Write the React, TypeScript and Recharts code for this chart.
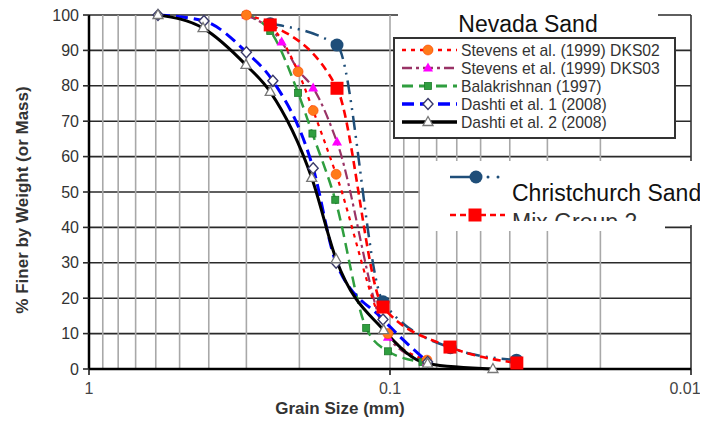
import { LineChart, Line, XAxis, YAxis, CartesianGrid, ReferenceLine } from 'recharts'

type Pt = { d: number; v: number }

// Nevada sand gradations: grain size (mm) vs % finer
const stevensDKS02: Pt[] = [
  { d: 0.3, v: 100 },
  { d: 0.25, v: 97 },
  { d: 0.202, v: 84 },
  { d: 0.18, v: 73 },
  { d: 0.151, v: 55 },
  { d: 0.1016, v: 10 },
  { d: 0.0754, v: 2.5 },
]
const stevensDKS03: Pt[] = [
  { d: 0.3, v: 100 },
  { d: 0.229, v: 92.4 },
  { d: 0.202, v: 84.5 },
  { d: 0.18, v: 79.4 },
  { d: 0.15, v: 64.1 },
  { d: 0.1016, v: 9 },
  { d: 0.0754, v: 2 },
]
const balakrishnan: Pt[] = [
  { d: 0.3, v: 100 },
  { d: 0.25, v: 95.5 },
  { d: 0.202, v: 78 },
  { d: 0.181, v: 66.5 },
  { d: 0.152, v: 47.8 },
  { d: 0.12, v: 11.6 },
  { d: 0.1016, v: 5 },
  { d: 0.078, v: 2 },
]
const dashti1: Pt[] = [
  { d: 0.59, v: 100 },
  { d: 0.415, v: 98.3 },
  { d: 0.3, v: 89.5 },
  { d: 0.245, v: 81.4 },
  { d: 0.18, v: 56.7 },
  { d: 0.151, v: 30 },
  { d: 0.1055, v: 14 },
  { d: 0.075, v: 2 },
]
const dashti2: Pt[] = [
  { d: 0.59, v: 100 },
  { d: 0.418, v: 96.3 },
  { d: 0.301, v: 85.9 },
  { d: 0.25, v: 78.3 },
  { d: 0.182, v: 54 },
  { d: 0.151, v: 31 },
  { d: 0.105, v: 11 },
  { d: 0.075, v: 1.5 },
  { d: 0.0455, v: 0 },
]

// Christchurch sand
const chchBlue: Pt[] = [
  { d: 0.25, v: 97.5 },
  { d: 0.15, v: 91.5 },
  { d: 0.1055, v: 19 },
  { d: 0.063, v: 6 },
  { d: 0.038, v: 2.5 },
]
const chchRed: Pt[] = [
  { d: 0.25, v: 97.2 },
  { d: 0.15, v: 79.3 },
  { d: 0.1055, v: 17.5 },
  { d: 0.0632, v: 6.2 },
  { d: 0.0379, v: 1.7 },
]

const GRID_X = [0.9, 0.8, 0.7, 0.6, 0.5, 0.4, 0.3, 0.2, 0.1, 0.09, 0.08, 0.07, 0.06, 0.05, 0.04, 0.03, 0.02]
const X_TICKS = [1, 0.1, 0.01]
const Y_TICKS = [0, 10, 20, 30, 40, 50, 60, 70, 80, 90, 100]

type MarkerKind = 'orange' | 'magTri' | 'greenSq' | 'diamond' | 'grayTri' | 'navyDot' | 'redSq'

function Marker({ kind, x, y }: { kind: MarkerKind; x: number; y: number }) {
  switch (kind) {
    case 'orange':
      return <circle cx={x} cy={y} r={5} fill="#ff7a1a" stroke="#ff4400" strokeWidth={0.6} />
    case 'magTri':
      return <path d={`M${x},${y - 5.5} L${x + 5},${y + 3.5} L${x - 5},${y + 3.5} Z`} fill="#ff00ff" />
    case 'greenSq':
      return <rect x={x - 3.5} y={y - 3.5} width={7} height={7} fill="#2f9e3f" stroke="#1d7a2a" strokeWidth={0.8} />
    case 'diamond':
      return <path d={`M${x},${y - 5.5} L${x + 5},${y} L${x},${y + 5.5} L${x - 5},${y} Z`} fill="#fff" stroke="#3a3a6a" strokeWidth={1.4} />
    case 'grayTri':
      return <path d={`M${x},${y - 5.5} L${x + 5},${y + 3.5} L${x - 5},${y + 3.5} Z`} fill="#fff" stroke="#777" strokeWidth={1.3} />
    case 'navyDot':
      return <circle cx={x} cy={y} r={6.5} fill="#1f4e79" />
    case 'redSq':
      return <rect x={x - 6.5} y={y - 6.5} width={13} height={13} fill="#ff0000" />
  }
}

const dotOf = (kind: MarkerKind) => (p: any) =>
  p.cx == null ? <g key={p.index} /> : <g key={p.index}><Marker kind={kind} x={p.cx} y={p.cy} /></g>

const XTick = (p: any) => {
  const v = p.payload.value
  const dx = v === 0.01 ? -6 : 0
  return (
    <text x={p.x + dx} y={p.y} dy="0.71em" textAnchor="middle" fontSize={16} fill="#444">
      {String(v)}
    </text>
  )
}

const SERIES = [
  { name: 'Balakrishnan (1997)', data: balakrishnan, stroke: '#2f9e3f', width: 2.5, dash: '11 6', marker: 'greenSq' as MarkerKind },
  { name: 'Stevens et al. (1999) DKS03', data: stevensDKS03, stroke: '#993366', width: 2.2, dash: '10 4 3 4', marker: 'magTri' as MarkerKind },
  { name: 'Stevens et al. (1999) DKS02', data: stevensDKS02, stroke: '#ff0000', width: 2.2, dash: '4 5', marker: 'orange' as MarkerKind },
  { name: 'Dashti et al. 1 (2008)', data: dashti1, stroke: '#0000ff', width: 3, dash: '12 6', marker: 'diamond' as MarkerKind },
  { name: 'Dashti et al. 2 (2008)', data: dashti2, stroke: '#000000', width: 3, dash: undefined, marker: 'grayTri' as MarkerKind },
  { name: 'Christchurch 1', data: chchBlue, stroke: '#1f4e79', width: 2.5, dash: '14 6 2 6 2 6', marker: 'navyDot' as MarkerKind },
  { name: 'Mix Group 2', data: chchRed, stroke: '#ff0000', width: 2.6, dash: '8 5', marker: 'redSq' as MarkerKind },
]

const LEGEND_ORDER = [2, 1, 0, 3, 4]

export default function App() {
  return (
    <div style={{ position: 'relative', width: 700, height: 431, fontFamily: '"Liberation Sans", Arial, sans-serif' }}>
      <LineChart width={700} height={431} margin={{ top: 7, right: 17, bottom: 40, left: 0 }}>
        {GRID_X.map((g) => (
          <ReferenceLine key={g} x={g} stroke="#a8a8a8" strokeWidth={1.6} />
        ))}
        <ReferenceLine x={0.01} stroke="#333" strokeWidth={1.6} />
        <CartesianGrid vertical={false} stroke="#2a2a2a" strokeWidth={1.6} />
        <XAxis
          type="number"
          dataKey="d"
          scale="log"
          domain={[0.01, 1]}
          reversed
          allowDataOverflow
          ticks={X_TICKS}
          interval={0}
          height={30}
          tickSize={6}
          tickMargin={8}
          tick={<XTick />}
          tickLine={{ stroke: '#111', strokeWidth: 1.5 }}
          axisLine={{ stroke: '#000', strokeWidth: 2.5 }}
        />
        <YAxis
          type="number"
          domain={[0, 100]}
          ticks={Y_TICKS}
          interval={0}
          width={81}
          tickSize={6}
          tickMargin={4}
          tick={{ fontSize: 16, fill: '#333' }}
          tickLine={{ stroke: '#2a2a2a', strokeWidth: 1.6 }}
          axisLine={{ stroke: '#000', strokeWidth: 2.5 }}
        />
        {SERIES.map((s) => (
          <Line
            key={s.name}
            data={s.data}
            dataKey="v"
            type="monotone"
            stroke={s.stroke}
            strokeWidth={s.width}
            strokeDasharray={s.dash}
            dot={dotOf(s.marker)}
            activeDot={false}
            isAnimationActive={false}
          />
        ))}
      </LineChart>

      <svg width={700} height={431} style={{ position: 'absolute', left: 0, top: 0, pointerEvents: 'none' }}>
        <defs>
          <clipPath id="cut">
            <rect x={505} y={205} width={170} height={16} />
          </clipPath>
        </defs>
        <g transform="translate(-8,-8)">
          {/* Nevada sand legend */}
          <rect x={398} y={0} width={260} height={37} fill="#fff" />
          <text x={528} y={32} fontSize={23} fill="#111" textAnchor="middle">Nevada Sand</text>
          <rect x={394} y={38} width={281} height={100} fill="#fff" stroke="#333" strokeWidth={2} />
          {LEGEND_ORDER.map((idx, i) => {
            const s = SERIES[idx]
            const y = 50 + i * 18
            return (
              <g key={s.name}>
                <line x1={402} x2={457} y1={y} y2={y} stroke={s.stroke} strokeWidth={s.width + 0.5} strokeDasharray={s.dash} />
                <Marker kind={s.marker} x={428} y={y} />
                <text x={461} y={y + 6} fontSize={15.7} fill="#333">{s.name}</text>
              </g>
            )
          })}

          {/* Christchurch sand legend */}
          <rect x={420} y={161} width={245} height={70} fill="#fff" />
          <rect x={665} y={161} width={43} height={64} fill="#fff" />
          <line x1={450} x2={477} y1={177} y2={177} stroke="#1f4e79" strokeWidth={2.5} />
          <circle cx={488} cy={177} r={1.5} fill="#1f4e79" />
          <circle cx={498} cy={177} r={1.5} fill="#1f4e79" />
          <Marker kind="navyDot" x={476} y={177} />
          <line x1={450} x2={505} y1={215} y2={215} stroke="#ff0000" strokeWidth={2.6} strokeDasharray="6 4" />
          <Marker kind="redSq" x={475} y={215} />
          <text x={512} y={201} fontSize={23} fill="#111">Christchurch Sand</text>
          <text x={512} y={230} fontSize={23} fill="#333" clipPath="url(#cut)">Mix Group 2</text>

          {/* axis titles */}
          <text
            x={22}
            y={200}
            fontSize={17}
            fontWeight="bold"
            fill="#333"
            textAnchor="middle"
            dominantBaseline="central"
            transform="rotate(-90 22 200)"
          >
            % Finer by Weight (or Mass)
          </text>
          <text x={340} y={414} fontSize={17} fontWeight="bold" fill="#333" textAnchor="middle">
            Grain Size (mm)
          </text>
        </g>
      </svg>
    </div>
  )
}
